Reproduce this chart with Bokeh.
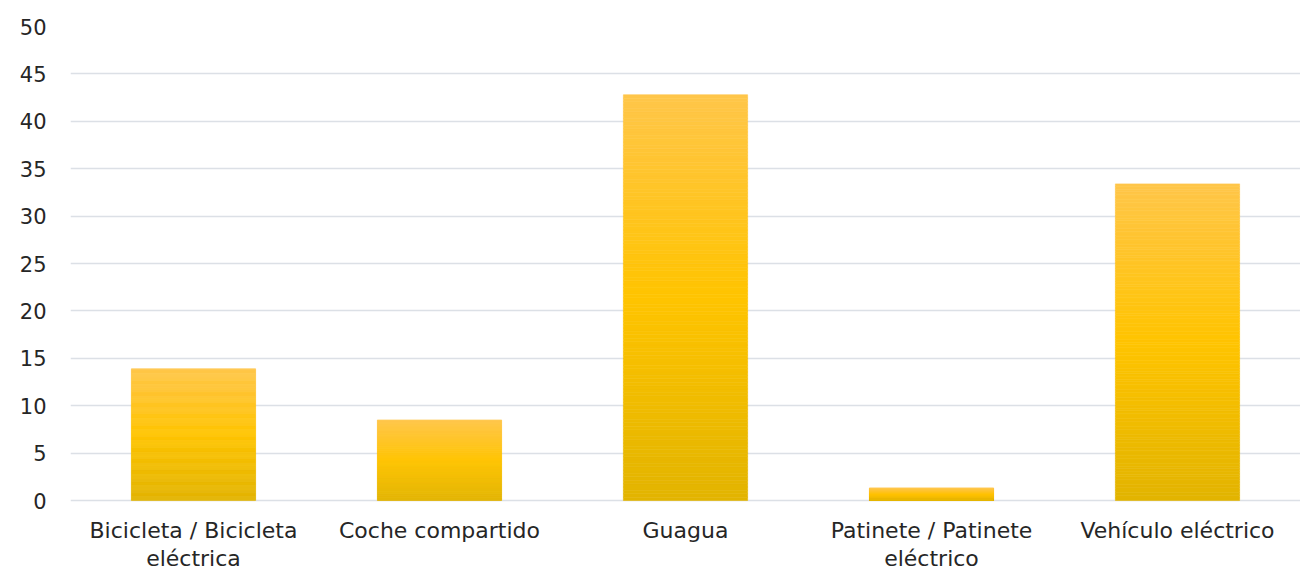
from bokeh.plotting import figure
from bokeh.models import FactorRange, Range1d, FixedTicker, ColumnDataSource, LabelSet
from bokeh.core.properties import value
from bokeh.embed import file_html
from bokeh.resources import INLINE

categories = ["Bicicleta / Bicicleta eléctrica", "Coche compartido", "Guagua",
              "Patinete / Patinete eléctrico", "Vehículo eléctrico"]
label_line1 = ["Bicicleta / Bicicleta", "Coche compartido", "Guagua",
               "Patinete / Patinete", "Vehículo eléctrico"]
label_line2 = ["eléctrica", "", "", "eléctrico", ""]
values = [13.9, 8.5, 42.8, 1.3, 33.4]
y_ticks = [0, 5, 10, 15, 20, 25, 30, 35, 40, 45, 50]

FONT = "DejaVu Sans"
stops = [(0.0, (0xE2, 0xB4, 0x00)), (0.5, (0xFF, 0xC4, 0x00)), (1.0, (0xFF, 0xC6, 0x4A))]


def grad(t):
    for (t0, c0), (t1, c1) in zip(stops[:-1], stops[1:]):
        if t <= t1:
            f = (t - t0) / (t1 - t0)
            return "#%02x%02x%02x" % tuple(int(round(a + (b - a) * f)) for a, b in zip(c0, c1))
    return "#%02x%02x%02x" % stops[-1][1]


# frame extends below zero so the two-line category labels can sit inside it
p = figure(width=1300, height=570, output_backend="svg", toolbar_location=None,
           x_range=FactorRange(*categories, range_padding=0), y_range=Range1d(-7.38, 50),
           min_border_left=70, min_border_right=0, min_border_top=26, min_border_bottom=0)
p.outline_line_color = None
p.xaxis.visible = False

N = 120
xs, bottoms, tops, colors = [], [], [], []
for c, v in zip(categories, values):
    for i in range(N):
        xs.append(c)
        bottoms.append(v * i / N)
        tops.append(v * (i + 1) / N)
        colors.append(grad((i + 0.5) / N))
src = ColumnDataSource(dict(x=xs, bottom=bottoms, top=tops, color=colors))
p.vbar(x="x", bottom="bottom", top="top", width=0.505, source=src,
       fill_color="color", line_color="color", line_width=0.6)

p.xgrid.visible = False
p.ygrid.grid_line_color = "#DCE0E6"
p.ygrid.grid_line_width = 1.5
p.ygrid.level = "underlay"

p.yaxis.ticker = FixedTicker(ticks=y_ticks)
ax = p.yaxis[0]
ax.axis_line_color = None
ax.major_tick_line_color = None
ax.minor_tick_line_color = None
ax.major_label_text_font = FONT
ax.major_label_text_color = "#262626"
ax.major_label_text_font_size = "21px"
ax.major_label_standoff = 18

xpos = [i + 0.5 for i in range(len(categories))]
for lines, off in ((label_line1, -30), (label_line2, -58)):
    s = ColumnDataSource(dict(x=xpos, y=[0] * len(xpos), text=lines))
    p.add_layout(LabelSet(x="x", y="y", text="text", source=s,
                          text_font=value(FONT), text_font_size=value("22px"),
                          text_color="#262626",
                          text_align="center", text_baseline="middle", y_offset=off))

open("out.html", "w").write(file_html(p, INLINE))
